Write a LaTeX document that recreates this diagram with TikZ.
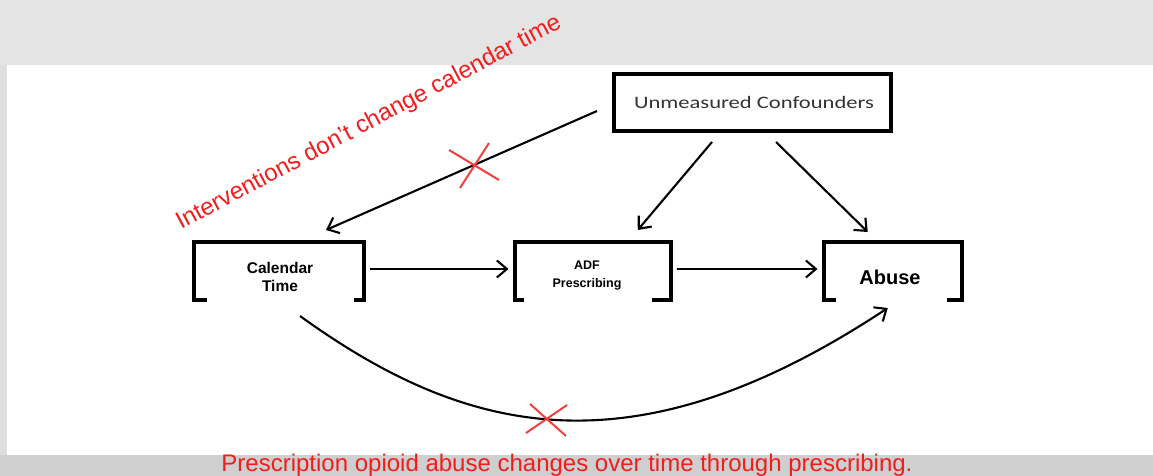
\documentclass[tikz,border=0pt]{standalone}
\usepackage{fontspec}
\setmainfont{Liberation Sans}
\newfontfamily\calib{Carlito}
\usetikzlibrary{arrows.meta}
\definecolor{redtxt}{HTML}{F21D1D}
\definecolor{bgtop}{HTML}{E4E4E4}
\definecolor{bgbot}{HTML}{CFCFCF}
\definecolor{conftxt}{HTML}{333333}
\begin{document}
\begin{tikzpicture}[x=1pt,y=-1pt,
  every node/.style={outer sep=0pt, inner sep=0pt},
  bracketbox/.style={minimum height=58.5pt},
  brk/.style={line width=4pt, miter limit=10},
  conn/.style={line width=2.1pt, -{Straight Barb[length=10pt,width=17pt,line width=2.1pt]}},
  cross/.style={draw=redtxt!85, line width=2pt},
  lbl/.style={font=\bfseries, align=center}
]
\useasboundingbox (0,0) rectangle (1153,476);
% background
\fill[bgtop] (0,0) rectangle (1153,476);
\fill[bgbot] (0,455) rectangle (1153,476);
\fill[gray!25] (0,65) rectangle (7,455);
\fill[white] (7,65) rectangle (1153,455);

% nodes
\node[draw, line width=4.5pt, minimum width=277pt, minimum height=57pt] (conf) at (752.5,102.5) {};
\node[font=\calib\fontsize{17.5}{20}\selectfont, text=conftxt, xscale=1.29] (conftext) at (754,102) {Unmeasured Confounders};

\node[bracketbox, minimum width=170pt] (cal) at (279,270.75) {};
\node[lbl, font=\bfseries\fontsize{15.5}{18}\selectfont] (caltext) at (280,277) {Calendar\\Time};

\node[bracketbox, minimum width=156.5pt] (adf) at (592.75,270.75) {};
\node[lbl, font=\bfseries\fontsize{12.5}{18}\selectfont] (adftext) at (587,276) {ADF\\Prescribing};

\node[bracketbox, minimum width=138.5pt] (abuse) at (892.75,270.75) {};
\node[lbl, font=\bfseries\fontsize{20}{24}\selectfont] (abusetext) at (890,277) {Abuse};

% bracket outlines
\draw[brk] ([xshift=13pt]cal.south west) -- (cal.south west) -- (cal.north west) -- (cal.north east) -- (cal.south east) -- ([xshift=-10pt]cal.south east);
\draw[brk] ([xshift=9pt]adf.south west) -- (adf.south west) -- (adf.north west) -- (adf.north east) -- (adf.south east) -- ([xshift=-19pt]adf.south east);
\draw[brk] ([xshift=12pt]abuse.south west) -- (abuse.south west) -- (abuse.north west) -- (abuse.north east) -- (abuse.south east) -- ([xshift=-15pt]abuse.south east);

% connectors
\draw[conn] ([xshift=-17pt,yshift=-8.5pt]conf.west) -- ([xshift=47pt,yshift=11.5pt]cal.north);
\draw[conn] ([xshift=-40.5pt,yshift=-11pt]conf.south) -- ([xshift=45pt,yshift=11.5pt]adf.north);
\draw[conn] ([xshift=23.5pt,yshift=-11pt]conf.south) -- ([xshift=-25pt,yshift=9.5pt]abuse.north);
\draw[conn] ([xshift=6pt,yshift=1.75pt]cal.east) -- ([xshift=-6pt,yshift=1.75pt]adf.west);
\draw[conn] ([xshift=6pt,yshift=1.75pt]adf.east) -- ([xshift=-6pt,yshift=1.75pt]abuse.west);
\draw[conn] ([xshift=21pt,yshift=-16pt]cal.south) .. controls (465,435) and (632,477) .. ([xshift=-5pt,yshift=-8pt]abuse.south);

% crosses
\draw[cross] (449,150) -- (499,180);
\draw[cross] (489,143) -- (460,188);
\draw[cross] (530,404) -- (566,436);
\draw[cross] (567,405) -- (526,433);

% red labels
\node[text=redtxt, font=\fontsize{24}{28}\selectfont, rotate=28] (note1) at (369,123) {Interventions don’t change calendar time};
\node[text=redtxt, font=\fontsize{24}{26}\selectfont] (note2) at (567,465) {Prescription opioid abuse changes over time through prescribing.};
\end{tikzpicture}
\end{document}
